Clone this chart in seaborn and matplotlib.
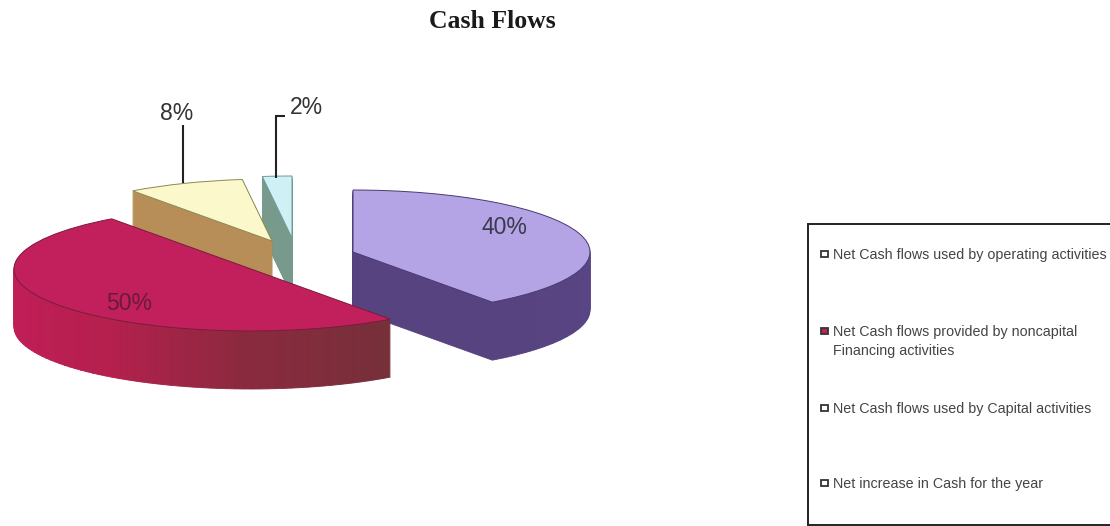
import matplotlib
matplotlib.use("Agg")
import matplotlib.pyplot as plt
from matplotlib.patches import Rectangle
import seaborn as sns

sns.set_theme(style="white")
plt.rcParams['font.family'] = ['Liberation Sans', 'DejaVu Sans']

# ---- data ----
title = "Cash Flows"
share = [40, 50, 8, 2]
legend_labels = [
    "Net Cash flows used by operating activities",
    "Net Cash flows provided by noncapital\nFinancing activities",
    "Net Cash flows used by Capital activities",
    "Net increase in Cash for the year",
]
top_colors = ['#B4A4E6', '#C2205C', '#FBF8CC', '#CFF1F6']
side_colors = [['#52407E', '#5A4688', '#57437F'],
               ['#76303A', '#8A2A3E', '#B5204E', '#BF1E56', '#BF1E56', '#BF1E56'],
               ['#B88E58', '#B88E58'],
               ['#789A8C', '#789A8C']]
edge_colors = ['#4A3A70', '#7A1C3C', '#8A8A50', '#6F9A9A']
legend_swatches = ['#FFFFFF', '#C2205C', '#FFFFFF', '#FFFFFF']

# ---- layout (pixels of the 1110x526 picture) ----
W, H = 1110, 526
RX, RY, DEPTH = 237, 62, 58
K = RX / RY
centers = [(353, 252), (251, 269), (272, 241), (292, 238)]
draw_order = [3, 2, 0, 1]
N_SIDE = [40, 90, 6, 2]

fig = plt.figure(figsize=(W / 100, H / 100), dpi=100)
ax = fig.add_axes([0, 0, 1, 1])


def start_of(i):
    return 90 - 3.6 * sum(share[:i])


for i in draw_order:
    frac = share[i] / 100
    cx, cy = centers[i]
    n = N_SIDE[i]
    shades = sns.blend_palette(side_colors[i], n)
    for d in range(DEPTH, 0, -1):
        wedges, _ = ax.pie([frac / n] * n, normalize=False, colors=shades,
                           startangle=start_of(i), counterclock=False,
                           radius=RX, center=(cx, -(cy + d) * K))
        for w in wedges:
            w.set_edgecolor(w.get_facecolor())
            w.set_linewidth(0.6)
    ax.pie([frac], normalize=False, colors=[top_colors[i]],
           startangle=start_of(i), counterclock=False,
           radius=RX, center=(cx, -cy * K),
           wedgeprops=dict(edgecolor=edge_colors[i], linewidth=0.7))

ax.set_aspect('auto')
ax.set_xlim(0, W)
ax.set_ylim(-H * K, 0)
ax.axis('off')

# overlay in picture pixels for texts, leaders and the legend
ov = fig.add_axes([0, 0, 1, 1], facecolor='none')
ov.set_xlim(0, W)
ov.set_ylim(H, 0)
ov.axis('off')

ov.text(492, 22, title, family='Liberation Serif', weight='bold', fontsize=18.5,
        color='#1a1a1a', ha='center', va='center')

label_pos = [(504, 228), (129, 304), (177, 113), (306, 108)]
label_col = ['#3a3a4a', '#6a1a3a', '#333333', '#333333']
for v, (x, y), c in zip(share, label_pos, label_col):
    ov.text(x, y, f"{v}%", fontsize=16.5, color=c, ha='center', va='center')

ov.plot([183, 183], [125, 183], color='#222222', lw=1.5, solid_capstyle='butt')
ov.plot([285, 276, 276], [116, 116, 178], color='#222222', lw=1.5,
        solid_capstyle='butt', solid_joinstyle='miter')

# legend
ov.add_patch(Rectangle((808, 224), 320, 301, facecolor='white', edgecolor='#222222',
                       lw=1.4, clip_on=True))
handle_y = [254, 331, 408, 483]
for lab, y, sw in zip(legend_labels, handle_y, legend_swatches):
    ov.add_patch(Rectangle((821, y - 3), 7, 6, facecolor=sw, edgecolor='#333333', lw=1.3))
    ov.text(833, y - 6, lab, fontsize=10.3, color='#444444', ha='left', va='top',
            linespacing=1.5)

fig.savefig("out.png", dpi=100)
